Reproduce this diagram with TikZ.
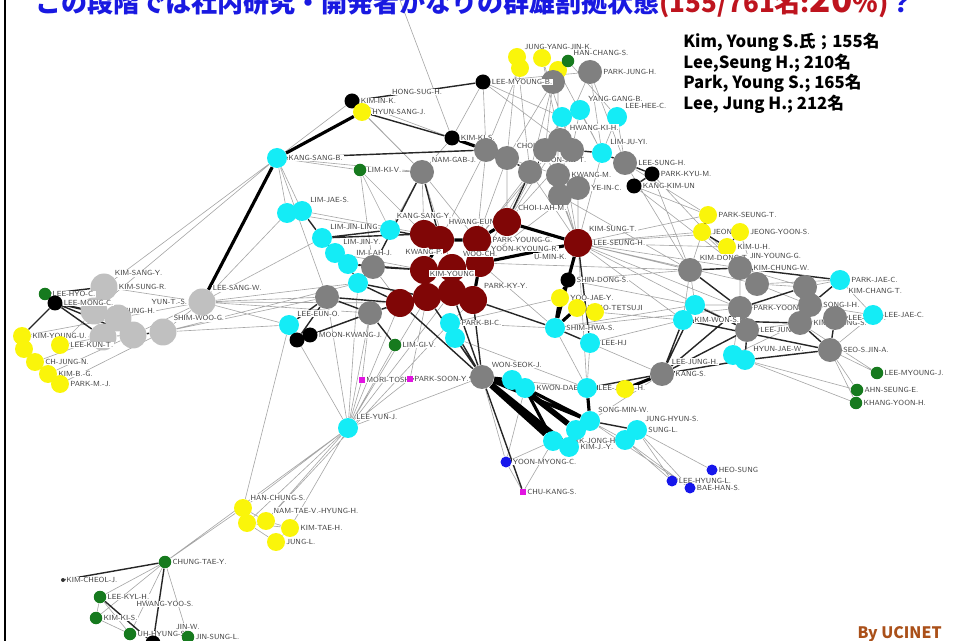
\documentclass[tikz,border=0pt]{standalone}
\usepackage{fontspec}
\newfontfamily\jpfont{Noto Sans CJK JP}
\definecolor{netred}{RGB}{128,6,6}
\definecolor{netgray}{RGB}{128,128,128}
\definecolor{netsilver}{RGB}{192,192,192}
\definecolor{netcyan}{RGB}{20,236,246}
\definecolor{netyellow}{RGB}{250,245,10}
\definecolor{netgreen}{RGB}{22,122,30}
\definecolor{netblue}{RGB}{22,22,235}
\definecolor{netmag}{RGB}{225,20,225}
\definecolor{titleblue}{RGB}{25,25,225}
\definecolor{titlered}{RGB}{190,20,30}
\definecolor{credit}{RGB}{170,80,25}
\usetikzlibrary{backgrounds}
\tikzset{
  actor/.style={circle, inner sep=0pt, draw=none},
  nred/.style={actor, fill=netred, minimum size=0.56cm},
  ngray/.style={actor, fill=netgray, minimum size=0.48cm},
  nsilver/.style={actor, fill=netsilver, minimum size=0.54cm},
  ncyan/.style={actor, fill=netcyan, minimum size=0.40cm},
  nyellow/.style={actor, fill=netyellow, minimum size=0.36cm},
  nblack/.style={actor, fill=black, minimum size=0.30cm},
  ngreen/.style={actor, fill=netgreen, minimum size=0.25cm},
  nblue/.style={actor, fill=netblue, minimum size=0.22cm},
  nmag/.style={rectangle, inner sep=0pt, fill=netmag, minimum size=0.12cm},
  ndot/.style={actor, fill=black!80, minimum size=0.08cm},
  lbl/.style={font=\fontsize{4.2}{4.5}\sffamily, text=black!75, fill=white, inner sep=0.4pt},
  lnk/.style={gray!70, line width=0.35pt},
  lnkm/.style={black!85, line width=0.8pt},
  lnkt/.style={black, line width=1.8pt},
  lnkx/.style={black, line width=3.2pt}
}

\begin{document}
\begin{tikzpicture}[x=0.02cm, y=-0.02cm]
  \useasboundingbox (0,0) rectangle (953,641);
  \draw[line width=1.7pt] (5,0) -- (5,641);

  %% Title, tally and credit
  \node[anchor=base west, inner sep=0pt, text=titleblue, font=\jpfont\bfseries\fontsize{14.8}{16}\selectfont] (title) at (35,13)
    {この段階では社内研究・開発者かなりの群雄割拠状態\textcolor{titlered}{(155/761名:{\fontsize{20}{20}\selectfont 20}\%)}？};
  \node[anchor=north west, align=left, inner sep=0pt, font=\jpfont\bfseries\fontsize{9.5}{11.7}\selectfont] (tally) at (683,33)
    {Kim, Young S.氏；155名\\Lee,Seung H.; 210名\\Park, Young S.; 165名\\Lee, Jung H.; 212名};
  \node[anchor=base east, inner sep=0pt, text=credit, font=\jpfont\bfseries\fontsize{9}{10}\selectfont] (credit) at (942,638) {By UCINET};

  %% Upper group
  \coordinate (offtop) at (398,-5);
  \node[nyellow, label={[lbl]above right:JUNG-YANG-JIN-K.}] (t1) at (517,57) {};
  \node[nyellow] (t2) at (542,58) {};
  \node[nyellow] (t3) at (520,68) {};
  \node[nyellow] (t4) at (558,70) {};
  \node[ngreen, label={[lbl]above right:HAN-CHANG-S.}] (t5) at (568,61) {};
  \node[ngray, label={[lbl]right:PARK-JUNG-H.}] (t6) at (590,72) {};
  \node[ngray] (t7) at (553,82) {};
  \node[nblack, label={[lbl]right:LEE-MYOUNG-B.}] (t8) at (483,82) {};
  \node[nblack, label={[lbl]right:KIM-IN-K.}] (t9) at (352,101) {};
  \node[lbl] (hsh) at (417,92) {HONG-SUG-H.};
  \node[nyellow, label={[lbl]right:HYUN-SANG-J.}] (t10) at (362,112) {};
  \node[nblack, label={[lbl]right:KIM-KI-S.}] (t11) at (452,138) {};
  \node[ncyan, label={[lbl]right:KANG-SANG-B.}] (t12) at (277,158) {};
  \node[ngreen, label={[lbl]right:LIM-KI-V.}] (t13) at (360,170) {};
  \node[ngray, label={[lbl]above right:NAM-GAB-J.}] (t14) at (422,172) {};
  \node[ngray] (t15) at (486,150) {};
  \node[ngray, label={[lbl]above right:CHOI-CI-Y.}] (t16) at (507,158) {};
  \node[ngray, label={[lbl]above right:YOON-JIN-T.}] (t17) at (530,172) {};
  \node[ncyan] (t18) at (562,117) {};
  \node[ncyan, label={[lbl]above right:YANG-GANG-B.}] (t19) at (580,110) {};
  \node[ncyan, label={[lbl]above right:LEE-HEE-C.}] (t20) at (617,117) {};
  \node[ngray, label={[lbl]above right:HWANG-KI-H.}] (t21) at (560,140) {};
  \node[ncyan, label={[lbl]above right:LIM-JU-YI.}] (t22) at (602,153) {};
  \node[ngray, label={[lbl]right:LEE-SUNG-H.}] (t23) at (625,163) {};
  \node[nblack, label={[lbl]right:PARK-KYU-M.}] (t24) at (652,174) {};
  \node[nblack, label={[lbl]right:KANG-KIM-UN}] (t25) at (634,186) {};
  \node[ngray] (t26) at (572,150) {};
  \node[ngray, label={[lbl]right:KWANG-M.}] (t27) at (558,175) {};
  \node[ngray, label={[lbl]right:YE-IN-C.}] (t28) at (578,188) {};
  \node[ngray] (t29) at (545,150) {};
  \node[ngray] (g16) at (560,196) {};

  %% Core (dark red)
  \node[nred, label={[lbl]above:KANG-SANG-Y.}] (r1) at (424,234) {};
  \node[nred] (r2) at (440,240) {};
  \node[nred, label={[lbl]above:HWANG-EUN-A.}, label={[lbl]right:PARK-YOUNG-G.}] (r3) at (477,240) {};
  \node[nred, label={[lbl]above right:CHOI-I-AH-M.}] (r4) at (507,222) {};
  \node[nred, label={[lbl]above right:KIM-SUNG-T.}, label={[lbl]right:LEE-SEUNG-H.}, label={[lbl]below left:U-MIN-K.}] (r5) at (578,243) {};
  \node[nred, label={[lbl]above right:YOON-KYOUNG-R.}] (r6) at (480,263) {};
  \node[nred, label={[lbl]above:KWANG-P.}] (r7) at (424,270) {};
  \node[nred, label={[lbl]above right:WOO-CH.}] (r8) at (452,268) {};
  \node[nred] (r9) at (400,303) {};
  \node[nred] (r10) at (427,297) {};
  \node[nred, label={[lbl]above right:PARK-KY-Y.}] (r11) at (473,300) {};
  \node[nred, label={[lbl]above:KIM-YOUNG}] (r12) at (452,292) {};

  %% Cyan chain left of core
  \node[ncyan] (c1) at (287,213) {};
  \node[ncyan, label={[lbl]above right:LIM-JAE-S.}] (c2) at (302,211) {};
  \node[ncyan, label={[lbl]above right:LIM-JIN-LING}] (c3) at (322,238) {};
  \node[ncyan, label={[lbl]above right:LIM-JIN-Y.}] (c4) at (335,253) {};
  \node[ncyan, label={[lbl]above right:IM-I-AH-J.}] (c5) at (348,264) {};
  \node[ncyan] (c6) at (358,283) {};
  \node[ncyan] (c7) at (390,230) {};
  \node[ncyan, label={[lbl]above right:LEE-EUN-O.}] (c8) at (289,325) {};
  \node[ncyan, label={[lbl]right:PARK-BI-C.}] (c9) at (450,323) {};
  \node[ncyan] (c10) at (455,338) {};
  \node[ngray] (g1) at (373,267) {};
  \node[ngray] (g2) at (327,297) {};
  \node[ngray] (g3) at (370,313) {};

  %% Left group (silver)
  \node[nsilver, label={[lbl]above right:KIM-SANG-Y.}, label={[lbl]right:KIM-SUNG-R.}] (s1) at (104,287) {};
  \node[nsilver, label={[lbl]right:LIM-JUNG-H.}] (s2) at (94,311) {};
  \node[nsilver] (s3) at (118,318) {};
  \node[nsilver] (s4) at (103,337) {};
  \node[nsilver] (s5) at (133,335) {};
  \node[nsilver, label={[lbl]above right:SHIM-WOO-G.}] (s6) at (163,332) {};
  \node[nsilver, label={[lbl]left:YUN-T.-S.}, label={[lbl]above right:LEE-SANG-W.}] (s7) at (202,302) {};
  \node[ngreen, label={[lbl]right:LEE-HYO-C.}] (lg1) at (45,294) {};
  \node[nblack, label={[lbl]right:LEE-MONG-C.}] (lb1) at (55,303) {};
  \node[nyellow, label={[lbl]right:KIM-YOUNG-U.}] (y1) at (22,336) {};
  \node[nyellow] (y2) at (24,349) {};
  \node[nyellow, label={[lbl]right:CH-JUNG-N.}] (y3) at (35,362) {};
  \node[nyellow, label={[lbl]right:KIM-B.-G.}] (y4) at (48,374) {};
  \node[nyellow, label={[lbl]right:PARK-M.-J.}] (y5) at (60,384) {};
  \node[nyellow, label={[lbl]right:LEE-KUN-T.}] (y6) at (60,345) {};

  %% Lower middle
  \node[nblack] (b1) at (297,340) {};
  \node[nblack, label={[lbl]right:MOON-KWANG-J.}] (b2) at (310,335) {};
  \node[ngreen, label={[lbl]right:LIM-GI-V.}] (b3) at (395,345) {};
  \node[nmag, label={[lbl]right:MORI-TOSHI}] (m1) at (362,380) {};
  \node[nmag, label={[lbl]right:PARK-SOON-Y.}] (m2) at (410,379) {};
  \node[ngray, label={[lbl]above right:WON-SEOK-J.}] (g4) at (482,377) {};
  \node[ncyan] (c11) at (512,380) {};
  \node[ncyan, label={[lbl]right:KWON-DAE-J.}] (c12) at (525,388) {};
  \node[ncyan, label={[lbl]right:LEE-JONG-H.}] (c13) at (587,388) {};
  \node[nyellow] (y7) at (625,389) {};
  \node[ngray, label={[lbl]above right:LEE-JUNG-H.}, label={[lbl]right:KANG-S.}] (g5) at (662,374) {};
  \node[ncyan, label={[lbl]above right:LEE-YUN-J.}] (c14) at (348,428) {};
  \node[ncyan, label={[lbl]above right:SONG-MIN-W.}] (c15) at (590,421) {};
  \node[ncyan, label={[lbl]right:PARK-JONG-H.}] (c16) at (553,441) {};
  \node[ncyan, label={[lbl]right:KIM-J.-Y.}] (c17) at (569,447) {};
  \node[ncyan] (c18) at (576,430) {};
  \node[ncyan] (c19) at (625,440) {};
  \node[ncyan, label={[lbl]above right:JUNG-HYUN-S.}, label={[lbl]right:SUNG-L.}] (c20) at (637,430) {};
  \node[nblue, label={[lbl]right:YOON-MYONG-C.}] (bl1) at (506,462) {};
  \node[nmag, label={[lbl]right:CHU-KANG-S.}] (m3) at (523,492) {};
  \node[nblue, label={[lbl]right:HEO-SUNG}] (bl2) at (712,470) {};
  \node[nblue, label={[lbl]right:LEE-HYUNG-L.}] (bl3) at (672,481) {};
  \node[nblue, label={[lbl]right:BAE-HAN-S.}] (bl4) at (690,488) {};

  %% Right group
  \node[nblack, label={[lbl]right:SHIN-DONG-S.}] (k1) at (568,280) {};
  \node[nyellow, label={[lbl]right:YOO-JAE-Y.}] (y8) at (560,298) {};
  \node[nyellow, label={[lbl]right:UENO-TETSUJI}] (y9) at (577,308) {};
  \node[nyellow] (y10) at (595,312) {};
  \node[ncyan, label={[lbl]right:SHIM-HWA-S.}] (c21) at (555,328) {};
  \node[ncyan, label={[lbl]right:LEE-HJ}] (c22) at (590,343) {};
  \node[nyellow, label={[lbl]right:PARK-SEUNG-T.}] (y11) at (708,215) {};
  \node[nyellow, label={[lbl]right:JEON-S.}] (y12) at (702,232) {};
  \node[nyellow, label={[lbl]right:JEONG-YOON-S.}] (y13) at (740,232) {};
  \node[nyellow, label={[lbl]right:KIM-U-H.}] (y14) at (727,247) {};
  \node[ngray, label={[lbl]above right:KIM-DONG-T.}] (g6) at (690,270) {};
  \node[ngray, label={[lbl]above right:JIN-YOUNG-G.}, label={[lbl]right:KIM-CHUNG-W.}] (g7) at (740,268) {};
  \node[ngray] (g8) at (757,284) {};
  \node[ngray, label={[lbl]right:PARK-YOON-D.}] (g9) at (740,308) {};
  \node[ngray, label={[lbl]right:LEE-JUN-H.}] (g10) at (747,330) {};
  \node[ngray] (g11) at (805,287) {};
  \node[ngray, label={[lbl]right:SONG-I-H.}] (g12) at (810,305) {};
  \node[ngray, label={[lbl]right:KIM-YOUNG-S.}] (g13) at (800,323) {};
  \node[ngray, label={[lbl]right:SEO-S.JIN-A.}] (g14) at (830,350) {};
  \node[ngray, label={[lbl]right:LEE-JU-W.}] (g15) at (835,318) {};
  \node[ncyan, label={[lbl]right:PARK-JAE-C.}, label={[lbl]below right:KIM-CHANG-T.}] (c23) at (840,280) {};
  \node[ncyan, label={[lbl]right:LEE-JAE-C.}] (c24) at (873,315) {};
  \node[ncyan] (c25) at (695,305) {};
  \node[ncyan, label={[lbl]right:KIM-WON-S.}] (c26) at (683,320) {};
  \node[ncyan, label={[lbl]above right:HYUN-JAE-W.}] (c27) at (745,360) {};
  \node[ncyan] (c28) at (733,355) {};
  \node[ngreen, label={[lbl]right:LEE-MYOUNG-J.}] (gr1) at (877,373) {};
  \node[ngreen, label={[lbl]right:AHN-SEUNG-E.}] (gr2) at (857,390) {};
  \node[ngreen, label={[lbl]right:KHANG-YOON-H.}] (gr3) at (856,403) {};

  %% Lower left
  \node[nyellow, label={[lbl]above right:HAN-CHUNG-S.}] (y15) at (243,508) {};
  \node[nyellow] (y16) at (247,523) {};
  \node[nyellow, label={[lbl]above right:NAM-TAE-V.-HYUNG-H.}] (y17) at (266,521) {};
  \node[nyellow, label={[lbl]right:KIM-TAE-H.}] (y18) at (290,528) {};
  \node[nyellow, label={[lbl]right:JUNG-L.}] (y19) at (276,542) {};
  \node[ngreen, label={[lbl]right:CHUNG-TAE-Y.}] (gr4) at (165,562) {};
  \node[ndot, label={[lbl]right:KIM-CHEOL-J.}] (k2) at (63,580) {};
  \node[lbl] (hys) at (165,604) {HWANG-YOO-S.};
  \node[ngreen, label={[lbl]right:LEE-KYL-H.}] (gr5) at (100,597) {};
  \node[ngreen, label={[lbl]right:KIM-KI-S.}] (gr6) at (96,618) {};
  \node[ngreen, label={[lbl]right:UH-HYUNG-S.}] (gr7) at (130,634) {};
  \node[nblack] (k3) at (153,643) {};
  \node[ngreen, label={[lbl]above:JIN-W.}, label={[lbl]right:JIN-SUNG-L.}] (gr8) at (188,637) {};

  %% Ties
  \begin{scope}[on background layer]
    \draw[lnk] (offtop) -- (t11) (t9) -- (t12) (t9) -- (t14) (t9) -- (t11) (t8) -- (t11) (t8) -- (t15)
      (t8) -- (t18) (t8) -- (t21) (t8) -- (t6) (t10) -- (t14) (t1) -- (t16) (t1) -- (t17) (t2) -- (t21)
      (t2) -- (t26) (t3) -- (t15) (t4) -- (t22) (t4) -- (t27) (t6) -- (t22) (t6) -- (t23) (t5) -- (t20)
      (t7) -- (t17) (t7) -- (t29) (t11) -- (t14) (t12) -- (t13) (t12) -- (t14) (t12) -- (s1) (t12) -- (c1)
      (t12) -- (g2) (t13) -- (t14) (t13) -- (c7) (t13) -- (g1) (t14) -- (r1) (t14) -- (r3) (t14) -- (c7)
      (t15) -- (r3) (t16) -- (r4) (t16) -- (t27) (t27) -- (r5) (t28) -- (r5) (t22) -- (r5) (g16) -- (r5)
      (g16) -- (g6) (t24) -- (g6) (t25) -- (g7) (t23) -- (y11) (t18) -- (t29) (t19) -- (t26) (t20) -- (t23)
      (r5) -- (g6) (r5) -- (g7) (r5) -- (g9) (r5) -- (c26) (r5) -- (y12) (r5) -- (y11) (r5) -- (c13)
      (g4) -- (bl1) (g4) -- (c14) (g4) -- (c13) (c12) -- (bl1) (bl1) -- (m3) (bl1) -- (c16) (m3) -- (c16)
      (c13) -- (c22) (c13) -- (c21) (c15) -- (c19) (c15) -- (bl4) (c20) -- (bl2) (c20) -- (bl3) (c20) -- (bl4)
      (c19) -- (bl3) (c19) -- (bl4) (g5) -- (c15) (g5) -- (c22) (y11) -- (g6) (y12) -- (g7) (y13) -- (g8)
      (y14) -- (g7) (g14) -- (gr1) (g14) -- (gr2) (g14) -- (gr3) (c27) -- (gr2) (c27) -- (gr3) (g13) -- (gr1)
      (c21) -- (c9) (c22) -- (c26) (c21) -- (c25) (g2) -- (s7) (c8) -- (s7) (s7) -- (r9) (s7) -- (g3)
      (s6) -- (g2) (s6) -- (c8) (s7) -- (c6) (b2) -- (r9) (b3) -- (c14) (m1) -- (c14) (m2) -- (c14)
      (c14) -- (g3) (c14) -- (r9) (c14) -- (r10) (c14) -- (g2) (c14) -- (c8) (m1) -- (g3) (m2) -- (r10)
      (c14) -- (y15) (c14) -- (y16) (c14) -- (y17) (c14) -- (y18) (c14) -- (gr4) (c8) -- (y15) (c9) -- (y17)
      (y15) -- (y16) (y16) -- (y17) (y17) -- (y18) (y18) -- (y19) (y19) -- (y16) (y15) -- (y17) (y16) -- (y18)
      (gr4) -- (y15) (gr4) -- (gr5) (gr4) -- (gr6) (gr4) -- (gr7) (gr4) -- (gr8) (gr5) -- (gr6) (gr6) -- (gr7)
      (gr5) -- (gr7) (s1) -- (s3) (s2) -- (s3) (s3) -- (s5) (s4) -- (s5) (s6) -- (s7) (s3) -- (s7) (s1) -- (s7)
      (y1) -- (s4) (y3) -- (s4) (y4) -- (s5) (y5) -- (s6) (y6) -- (s4) (y1) -- (y2) (y2) -- (y3) (y3) -- (y4)
      (y4) -- (y5) (g6) -- (c25) (g8) -- (g11) (g9) -- (g12) (g10) -- (g13) (c25) -- (g12) (g8) -- (g12)
      (r1) -- (t13) (r2) -- (t15) (r3) -- (t16) (r4) -- (t21) (r4) -- (t26) (r6) -- (t17) (r8) -- (t14)
      (r5) -- (t21) (r5) -- (t29) (r5) -- (t17) (r5) -- (g10) (r5) -- (g8) (r5) -- (y13) (r5) -- (y14)
      (r6) -- (g6) (r6) -- (c21) (r11) -- (c9) (r10) -- (g3) (c2) -- (r1) (c1) -- (c7) (c4) -- (r7)
      (g1) -- (r9) (c9) -- (c10) (c10) -- (c13) (c21) -- (g9) (y10) -- (c26) (k1) -- (g6) (k1) -- (c25)
      (y8) -- (c9) (t21) -- (r3) (t23) -- (g6) (t25) -- (y11) (t24) -- (g7) (t6) -- (t21) (t7) -- (t16)
      (t18) -- (t21) (t19) -- (t22) (t20) -- (t22) (g6) -- (c26) (g7) -- (g9) (g7) -- (g11) (c23) -- (g11)
      (c23) -- (c24) (c24) -- (g12) (g15) -- (g13) (g14) -- (c24) (g9) -- (c28) (c28) -- (g13) (c25) -- (c26)
      (g8) -- (c23) (s7) -- (c1) (s7) -- (c3) (s6) -- (c6) (s5) -- (s7) (s4) -- (s6) (s2) -- (y6) (s3) -- (y1)
      (t12) -- (c2) (t12) -- (s2) (c14) -- (c6) (c14) -- (r12) (t17) -- (r3) (t29) -- (r4) (t28) -- (r6);
    \draw[lnkm] (t8) -- (t9) (t10) -- (t11) (t11) -- (t16) (t12) -- (t15) (t14) -- (r2) (t14) -- (g1)
      (t16) -- (t17) (t17) -- (r4) (t17) -- (t21) (t26) -- (t22) (t22) -- (t23) (t23) -- (t24) (t24) -- (t25)
      (r2) -- (c7) (c7) -- (c3) (r7) -- (c5) (r7) -- (g1) (r9) -- (c6) (r9) -- (g2) (g2) -- (c8)
      (c1) -- (c2) (c2) -- (c3) (c3) -- (c4) (c4) -- (c5) (c5) -- (c6) (c3) -- (r1) (c6) -- (r10)
      (r5) -- (c22) (g4) -- (r9) (g4) -- (r10) (g4) -- (r11) (g4) -- (c9) (g4) -- (c10) (g4) -- (m3)
      (g4) -- (m2) (g4) -- (r12) (c13) -- (g5) (c15) -- (c20) (g5) -- (c26) (g5) -- (c25) (g5) -- (g10)
      (g5) -- (g9) (g5) -- (c27) (g6) -- (g7) (g6) -- (g9) (g7) -- (g8) (g7) -- (c23) (g9) -- (g11)
      (g9) -- (g10) (g11) -- (g12) (g12) -- (g13) (g13) -- (g14) (g15) -- (g14) (g12) -- (c23) (g15) -- (c24)
      (c25) -- (g10) (c26) -- (g13) (c26) -- (g14) (g10) -- (c27) (c27) -- (c28) (g14) -- (c27)
      (y12) -- (y14) (y13) -- (y14) (y9) -- (y10) (c21) -- (c22) (g1) -- (c5) (g1) -- (c6) (g1) -- (r7)
      (g2) -- (g3) (g3) -- (r9) (g3) -- (b3) (b1) -- (b2) (b1) -- (g2) (b2) -- (g3) (c21) -- (r11)
      (gr4) -- (k2) (gr4) -- (k3) (gr5) -- (k3) (s1) -- (s2) (s2) -- (s4) (s5) -- (s6)
      (lb1) -- (s2) (lb1) -- (s3) (lb1) -- (s4) (lb1) -- (s5) (lg1) -- (s1) (lg1) -- (lb1) (lb1) -- (y1);
    \draw[lnkt] (t10) -- (t12) (t11) -- (t15) (t15) -- (t16) (t21) -- (t26) (t12) -- (s7)
      (r1) -- (r2) (r2) -- (r3) (r3) -- (r4) (r3) -- (r6) (r2) -- (r7) (r7) -- (r8) (r8) -- (r6)
      (r6) -- (r5) (r4) -- (r5) (r9) -- (r10) (r10) -- (r12) (r12) -- (r11) (r8) -- (r12) (r10) -- (r7)
      (r11) -- (r6) (r5) -- (k1) (r5) -- (c21) (k1) -- (y8) (y8) -- (c21) (y9) -- (c21)
      (g4) -- (c11) (g4) -- (c12) (g4) -- (c15) (c12) -- (c15) (c12) -- (c16) (c13) -- (c15)
      (c13) -- (y7) (y7) -- (g5) (y11) -- (y12);
    \draw[lnkx] (g4) -- (c16) (g4) -- (c17) (c11) -- (c18);
  \end{scope}
\end{tikzpicture}
\end{document}
